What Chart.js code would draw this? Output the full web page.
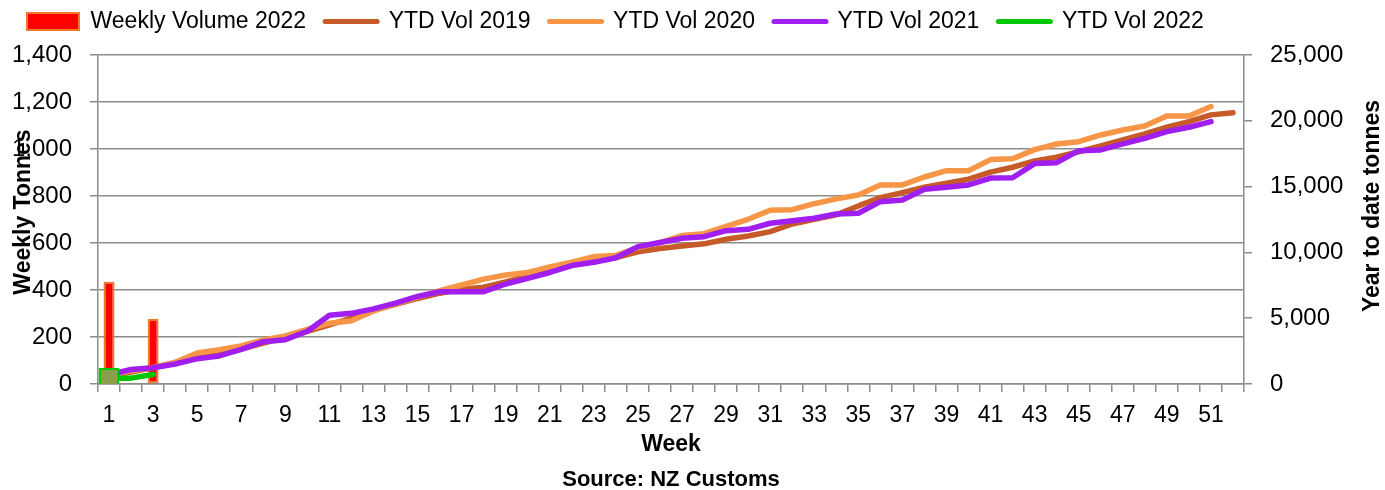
<!DOCTYPE html>
<html>
<head>
<meta charset="utf-8">
<script src="https://cdn.jsdelivr.net/npm/chart.js@4/dist/chart.umd.min.js"></script>
<style>
html,body{margin:0;padding:0;background:#ffffff;}
#wrap{width:1385px;height:490px;position:relative;}
</style>
</head>
<body>
<div id="wrap"><canvas id="c"></canvas></div>
<script>
// ---------- data ----------
const weeks = ['1','2','3','4','5','6','7','8','9','10','11','12','13','14','15','16','17','18','19','20',
  '21','22','23','24','25','26','27','28','29','30','31','32','33','34','35','36','37','38','39','40',
  '41','42','43','44','45','46','47','48','49','50','51','52'];

const weeklyVolume2022 = [435, 5, 277];

const ytdVol2019 = [600, 900, 1250, 1600, 1950, 2250, 2650, 3100, 3550, 4000, 4500, 5000, 5600, 6050, 6500,
  6900, 7200, 7350, 7750, 8200, 8650, 9050, 9300, 9600, 10050, 10300, 10490, 10650, 11000, 11250,
  11580, 12160, 12520, 12850, 13530, 14160, 14540, 14950, 15260, 15560, 16100, 16470, 16950, 17230,
  17650, 18090, 18550, 19000, 19510, 19940, 20450, 20620];

const ytdVol2020 = [650, 1000, 1250, 1650, 2350, 2600, 2900, 3350, 3650, 4150, 4610, 4800, 5550, 6080, 6580,
  7100, 7520, 7970, 8280, 8470, 8900, 9260, 9680, 9770, 10370, 10750, 11280, 11420, 11980, 12515,
  13200, 13250, 13700, 14070, 14365, 15125, 15125, 15730, 16210, 16210, 17050, 17110, 17810, 18240,
  18415, 18925, 19305, 19610, 20370, 20370, 21080];

const ytdVol2021 = [700, 1100, 1240, 1520, 1925, 2130, 2635, 3215, 3370, 4010, 5230, 5370, 5710, 6150, 6650,
  7015, 7015, 7015, 7600, 8030, 8475, 9000, 9245, 9590, 10440, 10750, 11075, 11195, 11650, 11755,
  12215, 12410, 12595, 12920, 12975, 13855, 13985, 14800, 14950, 15125, 15650, 15670, 16750, 16820,
  17730, 17785, 18240, 18670, 19175, 19510, 19935];

const ytdVol2022 = [440, 445, 720];

const leftTickValues = [0, 200, 400, 600, 800, 1000, 1200, 1400];
const rightTickValues = [0, 5000, 10000, 15000, 20000, 25000];

const seriesNames = ['Weekly Volume 2022', 'YTD Vol 2019', 'YTD Vol 2020', 'YTD Vol 2021', 'YTD Vol 2022'];
const axisTitles = { left: 'Weekly Tonnes', right: 'Year to date tonnes', x: 'Week', source: 'Source: NZ Customs' };

// ---------- chart ----------
const FONT = '"Liberation Sans", Arial, sans-serif';
Chart.defaults.font.family = FONT;
Chart.defaults.font.size = 24;
Chart.defaults.color = '#000000';

const GRID = '#8c8c8c';

const legendFix = {
  id: 'legendFix',
  beforeLayout(chart) {
    const lg = chart.legend;
    if (lg && !lg.__fixed) {
      const f = lg.fit;
      lg.fit = function () { f.call(this); this.height = 55; };
      lg.__fixed = true;
    }
  },
  afterLayout(chart) {
    const lg = chart.legend;
    if (lg) { lg.left = 8; lg.top = -9; }
  }
};

const titlesPlugin = {
  id: 'titlesPlugin',
  afterDraw(chart) {
    const ctx = chart.ctx;
    const a = chart.chartArea;
    const midX = (a.left + a.right) / 2;
    ctx.save();
    ctx.fillStyle = '#000000';
    ctx.textAlign = 'center';
    ctx.textBaseline = 'middle';
    ctx.font = 'bold 23px ' + FONT;
    ctx.save();
    ctx.translate(24, 212);
    ctx.rotate(-Math.PI / 2);
    ctx.fillText(axisTitles.left, 0, 0);
    ctx.restore();
    ctx.save();
    ctx.translate(1373, 206);
    ctx.rotate(-Math.PI / 2);
    ctx.fillText(axisTitles.right, 0, 0);
    ctx.restore();
    ctx.fillText(axisTitles.x, midX, 445);
    ctx.font = 'bold 22px ' + FONT;
    ctx.fillText(axisTitles.source, midX, 480);
    ctx.restore();
  }
};

const lineCommon = {
  type: 'line',
  yAxisID: 'y1',
  borderWidth: 5.5,
  pointRadius: 0,
  pointHoverRadius: 0,
  tension: 0,
  fill: false,
  borderCapStyle: 'round',
  borderJoinStyle: 'round'
};

new Chart(document.getElementById('c'), {
  type: 'bar',
  data: {
    labels: weeks,
    datasets: [
      {
        type: 'bar',
        label: seriesNames[0],
        data: weeklyVolume2022,
        yAxisID: 'y',
        backgroundColor: '#FF0000',
        borderColor: '#EE7A2A',
        borderWidth: 2,
        borderSkipped: false,
        categoryPercentage: 1.0,
        barPercentage: 0.5,
        order: 5
      },
      Object.assign({}, lineCommon, {
        label: seriesNames[1], data: ytdVol2019,
        borderColor: '#C65A28', backgroundColor: '#C65A28', order: 4
      }),
      Object.assign({}, lineCommon, {
        label: seriesNames[2], data: ytdVol2020,
        borderColor: '#F79646', backgroundColor: '#F79646', order: 3
      }),
      Object.assign({}, lineCommon, {
        label: seriesNames[3], data: ytdVol2021,
        borderColor: '#A01EF0', backgroundColor: '#A01EF0', order: 2
      }),
      Object.assign({}, lineCommon, {
        label: seriesNames[4], data: ytdVol2022,
        borderColor: '#00C800', backgroundColor: '#00C800', order: 1,
        pointStyle: 'rect',
        pointRadius: (c) => c.dataIndex === 0 ? 13 : 0,
        pointBackgroundColor: '#8A9F4C',
        pointBorderColor: '#00C800',
        pointBorderWidth: 2
      })
    ]
  },
  options: {
    responsive: true,
    maintainAspectRatio: false,
    animation: false,
    devicePixelRatio: 1,
    layout: { padding: 0 },
    plugins: {
      tooltip: { enabled: false },
      legend: {
        display: true,
        position: 'top',
        align: 'start',
        labels: {
          usePointStyle: true,
          pointStyleWidth: 52,
          boxHeight: 17,
          padding: 19,
          font: { size: 23 },
          color: '#000000',
          sort: (a, b) => a.datasetIndex - b.datasetIndex,
          generateLabels(chart) {
            const items = Chart.defaults.plugins.legend.labels.generateLabels(chart);
            items.forEach((it) => {
              const ds = chart.data.datasets[it.datasetIndex];
              if (ds.type === 'bar') {
                it.pointStyle = 'rect';
                it.fillStyle = ds.backgroundColor;
                it.strokeStyle = ds.borderColor;
                it.lineWidth = 2;
              } else {
                it.pointStyle = 'line';
                it.strokeStyle = ds.borderColor;
                it.fillStyle = ds.borderColor;
                it.lineWidth = 5;
                it.lineCap = 'round';
              }
            });
            return items;
          }
        }
      }
    },
    scales: {
      x: {
        type: 'category',
        offset: true,
        grid: {
          display: true,
          drawOnChartArea: false,
          drawTicks: true,
          tickLength: 8,
          offset: true,
          color: GRID,
          lineWidth: 1.5
        },
        border: { display: true, color: GRID, width: 1.5 },
        ticks: {
          autoSkip: false,
          maxRotation: 0,
          minRotation: 0,
          padding: 10,
          font: { size: 23 },
          callback: function (val, i) { return i % 2 === 0 ? this.getLabelForValue(val) : ''; }
        },
        afterFit(s) { s.height = 106; }
      },
      y: {
        type: 'linear',
        position: 'left',
        min: leftTickValues[0],
        max: leftTickValues[leftTickValues.length - 1],
        grid: {
          display: true,
          drawOnChartArea: true,
          drawTicks: true,
          tickLength: 8,
          color: GRID,
          lineWidth: 1.5
        },
        border: { display: true, color: GRID, width: 1.5 },
        ticks: {
          stepSize: leftTickValues[1] - leftTickValues[0],
          padding: 18,
          callback: (v) => Number(v).toLocaleString('en-US')
        },
        afterFit(s) { s.width = 98; }
      },
      y1: {
        type: 'linear',
        position: 'right',
        min: rightTickValues[0],
        max: rightTickValues[rightTickValues.length - 1],
        grid: {
          display: true,
          drawOnChartArea: false,
          drawTicks: true,
          tickLength: 8,
          color: GRID,
          lineWidth: 1.5
        },
        border: { display: true, color: GRID, width: 1.5 },
        ticks: {
          stepSize: rightTickValues[1] - rightTickValues[0],
          padding: 18,
          callback: (v) => Number(v).toLocaleString('en-US')
        },
        afterFit(s) { s.width = 141; }
      }
    }
  },
  plugins: [legendFix, titlesPlugin]
});
</script>
</body>
</html>
